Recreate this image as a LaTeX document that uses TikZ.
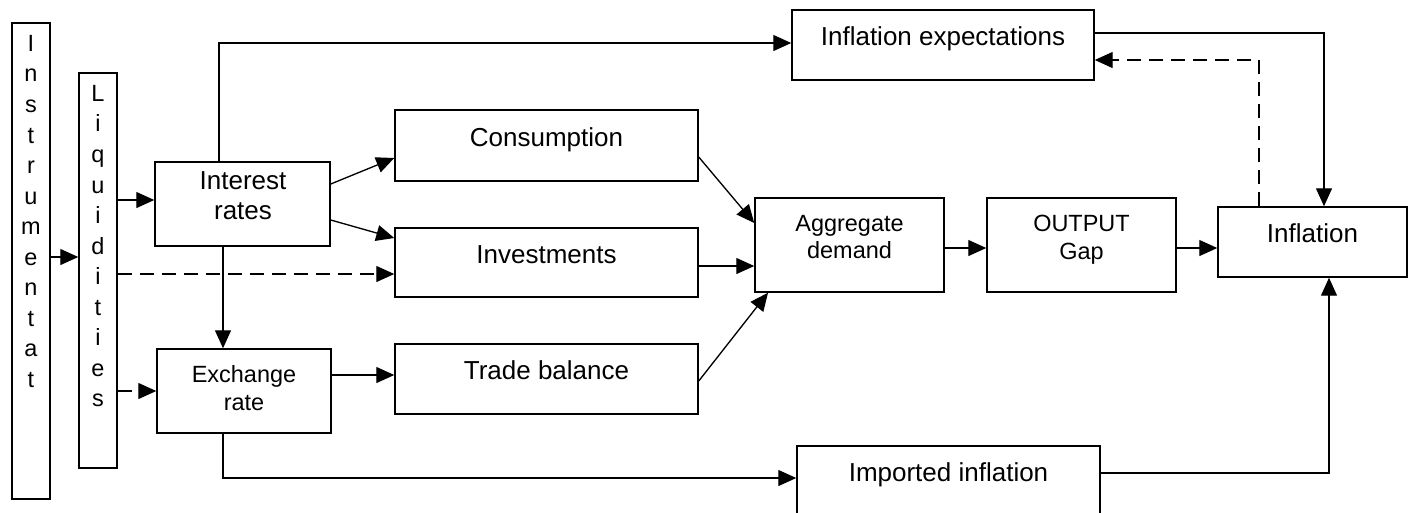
\documentclass[tikz,border=0pt]{standalone}
\usepackage{fontspec}
\setmainfont{Liberation Sans}
\usetikzlibrary{arrows.meta}
\begin{document}
\begin{tikzpicture}[x=0.75pt,y=-0.75pt,
  box/.style={draw,line width=1.1pt,inner sep=0pt,rectangle},
  lbl/.style={inner sep=0pt,align=center},
  big/.style={font=\fontsize{19.5pt}{22.5pt}\selectfont},
  small/.style={font=\fontsize{17.6pt}{20.6pt}\selectfont},
  vert/.style={font=\fontsize{17.6pt}{22.9pt}\selectfont},
  arr/.style={line width=1pt,-{Triangle[length=13.5pt,width=12pt]}},
  darr/.style={arr,dash pattern=on 10.5pt off 6pt}]
\clip (0,0) rectangle (1413,512);
\fill[white] (0,0) rectangle (1413,512);

% boxes
\node[box,minimum width=28.5pt,minimum height=357pt] (instr) at (31,261) {};
\node[box,minimum width=28.5pt,minimum height=296.25pt] (liq) at (98,270.5) {};
\node[box,minimum width=131.25pt,minimum height=63pt] (inter) at (242.5,204) {};
\node[box,minimum width=130.5pt,minimum height=63pt] (exch) at (244,391) {};
\node[box,minimum width=227.25pt,minimum height=53.25pt] (cons) at (546.5,145.5) {};
\node[box,minimum width=227.25pt,minimum height=51.75pt] (inv) at (546.5,262.5) {};
\node[box,minimum width=227.25pt,minimum height=52.5pt] (trade) at (546.5,379) {};
\node[box,minimum width=141.75pt,minimum height=70.5pt] (ad) at (849.5,245) {};
\node[box,minimum width=141.75pt,minimum height=70.5pt] (og) at (1081.5,245) {};
\node[box,minimum width=141.75pt,minimum height=52.5pt] (infl) at (1312.5,242) {};
\node[box,minimum width=226.5pt,minimum height=52.5pt] (iexp) at (943,45) {};
\node[box,minimum width=227.25pt,minimum height=52.5pt] (imp) at (948.5,481) {};

% labels
\node[lbl,vert,anchor=north] (instrT) at (31,35) {I\\n\\s\\t\\r\\u\\m\\e\\n\\t\\a\\t};
\node[lbl,vert,anchor=north] (liqT) at (98,85) {L\\i\\q\\u\\i\\d\\i\\t\\i\\e\\s};
\node[lbl,big] (interT) at (243,196) {Interest\\rates};
\node[lbl,small] (exchT) at (244,388) {Exchange\\rate};
\node[lbl,big] (consT) at (546.5,140) {Consumption};
\node[lbl,big] (invT) at (546.5,254.5) {Investments};
\node[lbl,big] (tradeT) at (546.5,370) {Trade balance};
\node[lbl,small] (adT) at (849.5,237) {Aggregate\\demand};
\node[lbl,small] (ogT) at (1081.5,239.5) {OUTPUT\\Gap};
\node[lbl,big] (inflT) at (1312.5,233) {Inflation};
\node[lbl,big] (iexpT) at (943,38.8) {Inflation expectations};
\node[lbl,big] (impT) at (948.5,474.8) {Imported inflation};

% connectors
\draw[arr] (instr.east |- 0,257) -- (liq.west |- 0,257);
\draw[arr] (liq.east |- 0,200) -- (inter.west |- 0,200);
\draw[darr] (liq.east |- 0,274) -- (inv.west |- 0,274);
\draw[darr] (liq.east |- 0,391) -- (exch.west |- 0,391);
\draw[arr] (inter.north -| 219,0) |- (iexp.west |- 0,43);
\draw[arr] (inter.south -| 223,0) -- (exch.north -| 223,0);
\draw[arr] (inter.east |- 0,184) -- (cons.west |- 0,158);
\draw[arr] (inter.east |- 0,220) -- (inv.west |- 0,238);
\draw[arr] (exch.east |- 0,375) -- (trade.west |- 0,375);
\draw[arr] (exch.south -| 223,0) |- (imp.west |- 0,478);
\draw[arr] (cons.east |- 0,157) -- (ad.west |- 0,223);
\draw[arr] (inv.east |- 0,266) -- (ad.west |- 0,266);
\draw[arr] (trade.east |- 0,381) -- (ad.south -| 768,0);
\draw[arr] (ad.east |- 0,248) -- (og.west |- 0,248);
\draw[arr] (og.east |- 0,248) -- (infl.west |- 0,248);
\draw[arr] (iexp.east |- 0,33) -| (infl.north -| 1324,0);
\draw[darr] (infl.north -| 1259,0) |- (iexp.east |- 0,60);
\draw[arr] (imp.east |- 0,473) -| (infl.south -| 1329,0);
\end{tikzpicture}
\end{document}
